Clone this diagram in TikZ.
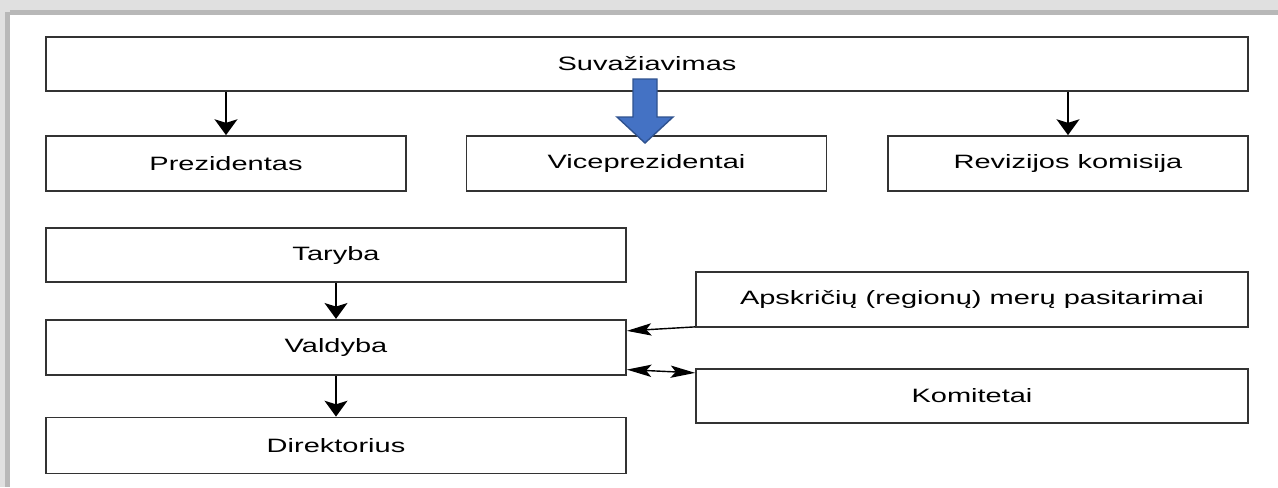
\documentclass[tikz,border=0pt]{standalone}
\usepackage{graphicx}
\usepackage{fontspec}
\setmainfont{Liberation Sans}
\usepackage{tikz}
\usetikzlibrary{positioning,arrows.meta}
\newcommand{\wide}[1]{\scalebox{1.5}[1]{#1}}
\definecolor{blockblue}{RGB}{68,114,196}
\definecolor{blockedge}{RGB}{47,82,143}
\tikzset{
  box/.style={draw=black!80, line width=1pt, inner sep=0pt, minimum height=1.1cm,
    font=\fontsize{11}{13}\selectfont},
  vlink/.style={line width=1pt, -{Stealth[length=9pt,width=13pt,inset=2pt]}},
  hlink/.style={line width=0.8pt, {Stealth[length=14pt,width=7pt,inset=3pt]}-{Stealth[length=14pt,width=7pt,inset=3pt]}},
  hlinkone/.style={line width=0.8pt, -{Stealth[length=14pt,width=7pt,inset=3pt]}}
}
\begin{document}
\begin{tikzpicture}[x=0.02cm, y=-0.02cm]

  % Frame
  \useasboundingbox (0,0) rectangle (1278,487);
  \fill[white] (0,0) rectangle (1278,487);
  \fill[black!12] (0,0) rectangle (1278,15);
  \fill[black!12] (0,0) rectangle (10,487);
  \fill[black!28] (10,10) rectangle (1278,15);
  \fill[black!28] (5,12) rectangle (10,487);

  % Nodes
  \node[box, minimum width=24.04cm, minimum height=1.08cm] (suva) at (647,64) {\wide{Suvažiavimas}};
  \node[box, minimum width=7.2cm] (prez) at (226,163.5) {\wide{Prezidentas}};
  \node[box, minimum width=7.2cm] (vice) at (646.5,163.5) {\wide{Viceprezidentai}};
  \node[box, minimum width=7.2cm] (revkom) at (1068,163.5) {\wide{Revizijos komisija}};

  \node[box, minimum width=11.6cm, minimum height=1.08cm] (taryba) at (336,255) {\wide{Taryba}};
  \node[box, minimum width=11.6cm, below=0.72cm of taryba] (valdyba) {\wide{Valdyba}};
  \node[box, minimum width=11.6cm, minimum height=1.12cm, below=0.82cm of valdyba] (direkt) {\wide{Direktorius}};

  \node[box, minimum width=11.04cm] (apskr) at (972,299.5) {\wide{Apskričių (regionų) merų pasitarimai}};
  \node[box, minimum width=11.04cm, minimum height=1.08cm, below=0.8cm of apskr] (komit) {\wide{Komitetai}};

  % Edges
  \draw[vlink] (suva.south -| prez) -- (prez);
  \draw[vlink] (suva.south -| revkom) -- (revkom);
  \draw[vlink] (taryba) -- (valdyba);
  \draw[vlink] (valdyba) -- (direkt);
  \draw[hlinkone] ([yshift=0.02cm]apskr.south west) -- ([yshift=-0.24cm]valdyba.north east);
  \draw[hlink] ([yshift=0.12cm]valdyba.south east) -- ([yshift=-0.1cm]komit.north west);

  % Block arrow
  \draw[blockedge, line width=0.8pt, fill=blockblue]
    (633,79) -- (657,79) -- (657,117) -- (673,117) -- (645,143)
    -- (617,117) -- (633,117) -- cycle;

\end{tikzpicture}
\end{document}
